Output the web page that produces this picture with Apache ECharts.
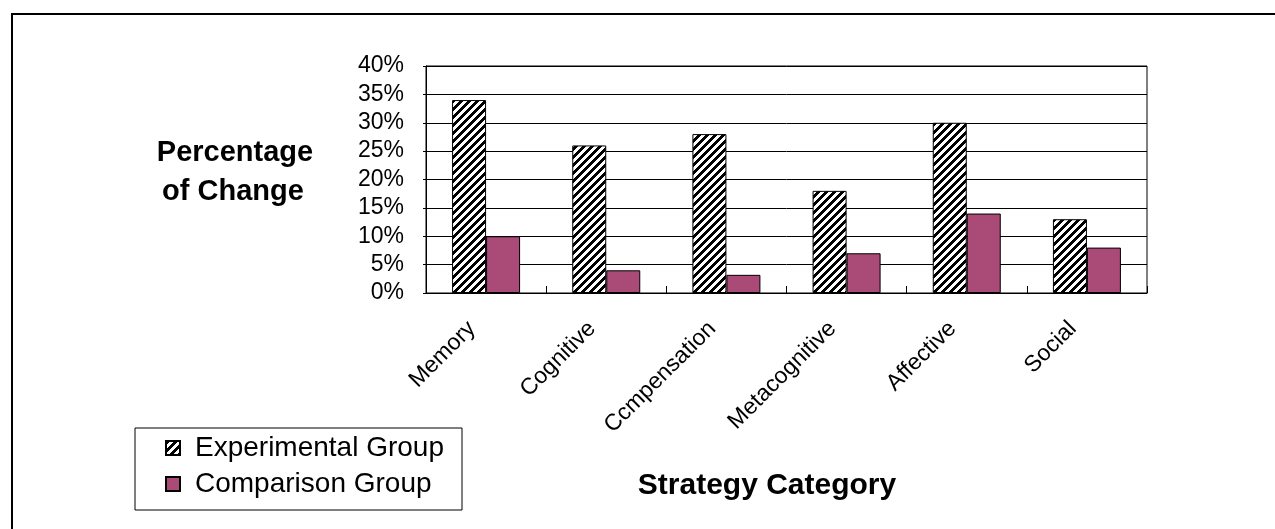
<!DOCTYPE html>
<html>
<head>
<meta charset="utf-8">
<script src="https://cdn.jsdelivr.net/npm/echarts@6/dist/echarts.min.js"></script>
<style>
html,body{margin:0;padding:0;background:#fff;}
#chart{width:1275px;height:529px;}
</style>
</head>
<body>
<div id="chart"></div>
<script>
const categories = ['Memory', 'Cognitive', 'Ccmpensation', 'Metacognitive', 'Affective', 'Social'];
const experimental = [34, 26, 28, 18, 30, 13];
const comparison = [10, 4, 3.2, 7, 14, 8];
const seriesNames = ['Experimental Group', 'Comparison Group'];
const yTicks = { min: 0, max: 40, interval: 5 };

// diagonal stripe pattern
function makePattern() {
  const c = document.createElement('canvas');
  c.width = 8; c.height = 8;
  const ctx = c.getContext('2d');
  const img = ctx.createImageData(8, 8);
  for (let y = 0; y < 8; y++) {
    for (let x = 0; x < 8; x++) {
      const i = (y * 8 + x) * 4;
      const black = ((x + y) % 8) < 4;
      const v = black ? 0 : 255;
      img.data[i] = v; img.data[i + 1] = v; img.data[i + 2] = v; img.data[i + 3] = 255;
    }
  }
  ctx.putImageData(img, 0, 0);
  return c;
}

const chart = echarts.init(document.getElementById('chart'), null, { renderer: 'canvas' });
const FONT = 'Liberation Sans, Arial, sans-serif';

chart.setOption({
  backgroundColor: '#fff',
  animation: false,
  grid: {
    left: 426, right: 128, top: 66, bottom: 236,
    show: true, borderColor: '#000', borderWidth: 1, backgroundColor: 'transparent'
  },
  xAxis: {
    type: 'category',
    data: categories,
    axisLine: { lineStyle: { color: '#000', width: 1 } },
    axisTick: { show: true, inside: true, length: 7, lineStyle: { color: '#000' } },
    axisLabel: { rotate: 45, margin: 18, padding: [0, 20, 0, 0], color: '#000', fontFamily: FONT, fontSize: 23 }
  },
  yAxis: {
    type: 'value',
    min: yTicks.min, max: yTicks.max, interval: yTicks.interval,
    axisLine: { show: true, lineStyle: { color: '#000', width: 1 } },
    axisTick: { show: true, length: 3, lineStyle: { color: '#000' } },
    splitLine: { show: true, lineStyle: { color: '#000', width: 1 } },
    axisLabel: { formatter: '{value}%', margin: 22, color: '#000', fontFamily: FONT, fontSize: 23 }
  },
  legend: {
    orient: 'vertical',
    left: 135, top: 428,
    padding: [6, 18, 12, 30],
    itemGap: 8,
    itemWidth: 14, itemHeight: 14,
    icon: 'rect',
    borderColor: '#000', borderWidth: 1,
    textStyle: { color: '#000', fontFamily: FONT, fontSize: 28, padding: [0, 0, 0, 10] },
    data: seriesNames
  },
  graphic: [
    { type: 'line', shape: { x1: 11, y1: 14, x2: 1275, y2: 14 }, style: { stroke: '#000', lineWidth: 2 } },
    { type: 'line', shape: { x1: 12, y1: 13, x2: 12, y2: 529 }, style: { stroke: '#000', lineWidth: 2 } },
    { type: 'text', x: 235, y: 153, style: { text: 'Percentage', fontFamily: FONT, fontWeight: 'bold', fontSize: 29, fill: '#000', textAlign: 'center', textVerticalAlign: 'middle' } },
    { type: 'text', x: 233, y: 192, style: { text: 'of Change', fontFamily: FONT, fontWeight: 'bold', fontSize: 29, fill: '#000', textAlign: 'center', textVerticalAlign: 'middle' } },
    { type: 'text', x: 767, y: 486, style: { text: 'Strategy Category', fontFamily: FONT, fontWeight: 'bold', fontSize: 30, fill: '#000', textAlign: 'center', textVerticalAlign: 'middle' } }
  ],
  series: [
    {
      name: seriesNames[0], type: 'bar', data: experimental,
      barWidth: 34, barGap: '0%',
      itemStyle: { color: { image: makePattern(), repeat: 'repeat' }, borderColor: '#000', borderWidth: 1 }
    },
    {
      name: seriesNames[1], type: 'bar', data: comparison,
      barWidth: 34, barGap: '0%',
      itemStyle: { color: '#A94A77', borderColor: '#000', borderWidth: 1 }
    }
  ]
});
</script>
</body>
</html>
